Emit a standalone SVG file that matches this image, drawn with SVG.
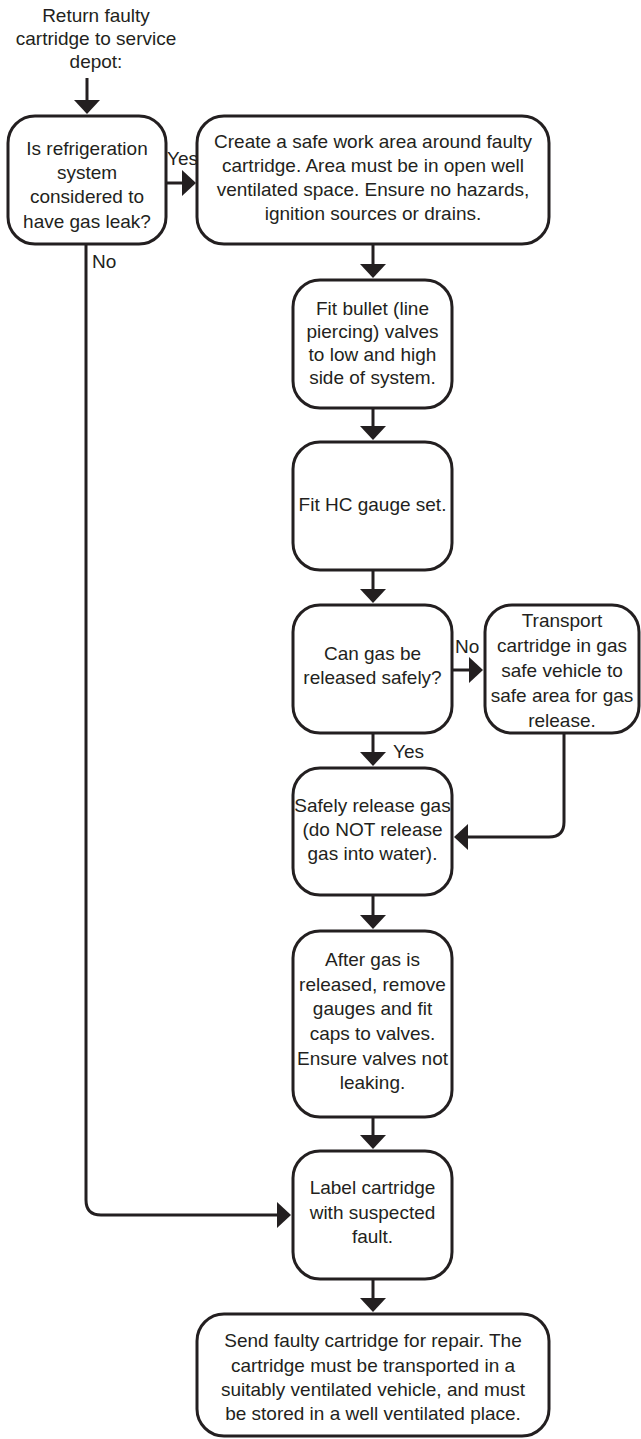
<svg xmlns="http://www.w3.org/2000/svg" width="641" height="1439" viewBox="0 0 641 1439">
<style>
  .box { fill: #ffffff; stroke: #231f20; stroke-width: 3; }
  .t { font-family: "Liberation Sans", Arial, sans-serif; font-size: 19px; fill: #231f20; text-anchor: middle; }
  .lbl { font-family: "Liberation Sans", Arial, sans-serif; font-size: 19px; fill: #231f20; }
  .c { fill: none; stroke: #231f20; stroke-width: 3; marker-end: url(#ah); }
</style>
<defs>
  <marker id="ah" markerUnits="userSpaceOnUse" markerWidth="16" markerHeight="26" viewBox="0 0 14 26" refX="2" refY="13" orient="auto">
    <path d="M0,0 L14,13 L0,26 Z" fill="#231f20"/>
  </marker>
</defs>
<rect width="641" height="1439" fill="#ffffff"/>

<g id="title">
  <text class="t" x="96" y="22">Return faulty</text>
  <text class="t" x="96" y="45">cartridge to service</text>
  <text class="t" x="96" y="68">depot:</text>
</g>

<g id="connectors">
  <path class="c" d="M87,78 L87,102"/>
  <path class="c" d="M166,183 L184,183"/>
  <path class="c" d="M373,244 L373,266"/>
  <path class="c" d="M373,408 L373,428"/>
  <path class="c" d="M373,570 L373,591"/>
  <path class="c" d="M452,670 L471,670"/>
  <path class="c" d="M373,733 L373,754"/>
  <path class="c" d="M564,733 L564,822 Q564,837 549,837 L466,837"/>
  <path class="c" d="M373,895 L373,917"/>
  <path class="c" d="M373,1117 L373,1137"/>
  <path class="c" d="M86,244 L86,1200 Q86,1215 101,1215 L279,1215"/>
  <path class="c" d="M373,1279 L373,1300"/>
  <text class="lbl" x="167" y="165">Yes</text>
  <text class="lbl" x="92" y="268">No</text>
  <text class="lbl" x="455" y="653">No</text>
  <text class="lbl" x="393" y="758">Yes</text>
</g>

<g id="n1">
  <rect class="box" x="8" y="116" width="158" height="128" rx="27"/>
  <text class="t" x="87" y="155">Is refrigeration</text>
  <text class="t" x="87" y="179">system</text>
  <text class="t" x="87" y="203">considered to</text>
  <text class="t" x="87" y="228">have gas leak?</text>
</g>

<g id="n2">
  <rect class="box" x="197" y="116" width="352" height="128" rx="27"/>
  <text class="t" x="373" y="148">Create a safe work area around faulty</text>
  <text class="t" x="373" y="172">cartridge. Area must be in open well</text>
  <text class="t" x="373" y="196">ventilated space. Ensure no hazards,</text>
  <text class="t" x="373" y="220">ignition sources or drains.</text>
</g>

<g id="n3">
  <rect class="box" x="293" y="280" width="159" height="128" rx="27"/>
  <text class="t" x="372.5" y="315">Fit bullet (line</text>
  <text class="t" x="372.5" y="338">piercing) valves</text>
  <text class="t" x="372.5" y="361">to low and high</text>
  <text class="t" x="372.5" y="384">side of system.</text>
</g>

<g id="n4">
  <rect class="box" x="293" y="442" width="159" height="128" rx="27"/>
  <text class="t" x="372.5" y="511">Fit HC gauge set.</text>
</g>

<g id="n5">
  <rect class="box" x="293" y="605" width="159" height="128" rx="27"/>
  <text class="t" x="372.5" y="660">Can gas be</text>
  <text class="t" x="372.5" y="684">released safely?</text>
</g>

<g id="n6">
  <rect class="box" x="485" y="605" width="154" height="128" rx="27"/>
  <text class="t" x="562" y="627">Transport</text>
  <text class="t" x="562" y="652">cartridge in gas</text>
  <text class="t" x="562" y="677">safe vehicle to</text>
  <text class="t" x="562" y="702">safe area for gas</text>
  <text class="t" x="562" y="727">release.</text>
</g>

<g id="n7">
  <rect class="box" x="293" y="768" width="159" height="127" rx="27"/>
  <text class="t" x="372.5" y="812">Safely release gas</text>
  <text class="t" x="372.5" y="836">(do NOT release</text>
  <text class="t" x="372.5" y="860">gas into water).</text>
</g>

<g id="n8">
  <rect class="box" x="293" y="931" width="159" height="186" rx="27"/>
  <text class="t" x="372.5" y="966">After gas is</text>
  <text class="t" x="372.5" y="991">released, remove</text>
  <text class="t" x="372.5" y="1015">gauges and fit</text>
  <text class="t" x="372.5" y="1040">caps to valves.</text>
  <text class="t" x="372.5" y="1065">Ensure valves not</text>
  <text class="t" x="372.5" y="1089">leaking.</text>
</g>

<g id="n9">
  <rect class="box" x="293" y="1151" width="159" height="128" rx="27"/>
  <text class="t" x="372.5" y="1194">Label cartridge</text>
  <text class="t" x="372.5" y="1219">with suspected</text>
  <text class="t" x="372.5" y="1243">fault.</text>
</g>

<g id="n10">
  <rect class="box" x="197" y="1314" width="352" height="122" rx="27"/>
  <text class="t" x="373" y="1347">Send faulty cartridge for repair. The</text>
  <text class="t" x="373" y="1372">cartridge must be transported in a</text>
  <text class="t" x="373" y="1396">suitably ventilated vehicle, and must</text>
  <text class="t" x="373" y="1420">be stored in a well ventilated place.</text>
</g>
</svg>
